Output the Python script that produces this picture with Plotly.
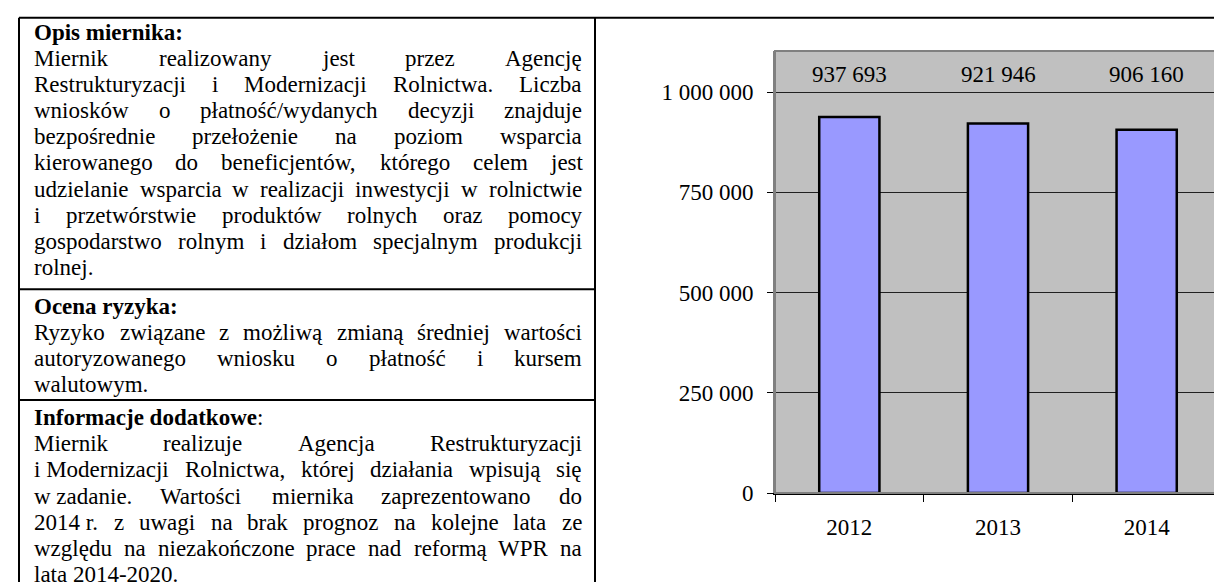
import plotly.graph_objects as go

# chart data
years = ["2012", "2013", "2014"]
values = [937693, 921946, 906160]

# description table text (left cell)
head_opis = "<b>Opis miernika:</b>"
opis_lines = [
    "Miernik realizowany jest przez Agencję",
    "Restrukturyzacji i Modernizacji Rolnictwa. Liczba",
    "wniosków o płatność/wydanych decyzji znajduje",
    "bezpośrednie przełożenie na poziom wsparcia",
    "kierowanego do beneficjentów, którego celem jest",
    "udzielanie wsparcia w realizacji inwestycji w rolnictwie",
    "i przetwórstwie produktów rolnych oraz pomocy",
    "gospodarstwo rolnym i działom specjalnym produkcji",
    "rolnej.",
]
head_ryzyko = "<b>Ocena ryzyka:</b>"
ryzyko_lines = [
    "Ryzyko związane z możliwą zmianą średniej wartości",
    "autoryzowanego wniosku o płatność i kursem",
    "walutowym.",
]
head_info = "<b>Informacje dodatkowe</b>:"
info_lines = [
    "Miernik realizuje Agencja Restrukturyzacji",
    "i\u00a0Modernizacji Rolnictwa, której działania wpisują się",
    "w\u00a0zadanie. Wartości miernika zaprezentowano do",
    "2014\u00a0r. z uwagi na brak prognoz na kolejne lata ze",
    "względu na niezakończone prace nad reformą WPR na",
    "lata 2014-2020.",
]

W, H = 1222, 587
FONT = "Liberation Serif, Times New Roman, serif"
FS = 23


def px(x):
    return x / W


def py(y):
    return 1 - y / H


# Times metrics (1/1000 em) to emulate justified text
_lw = dict(zip("abcdefghijklmnopqrstuvwxyz",
               [444, 500, 444, 500, 444, 333, 500, 500, 278, 278, 500, 278, 778,
                500, 500, 500, 500, 333, 389, 278, 500, 500, 722, 500, 500, 444]))
_uw = dict(zip("ABCDEFGHIJKLMNOPQRSTUVWXYZ",
               [722, 667, 667, 722, 611, 556, 722, 722, 333, 389, 722, 611, 889,
                722, 722, 556, 722, 667, 556, 611, 722, 722, 944, 722, 722, 611]))
_pl = dict(zip("ąćęłńóśźż", "acelnoszz"))


def text_w(s):
    tot = 0
    for ch in s:
        ch = _pl.get(ch, ch)
        if ch in _lw:
            tot += _lw[ch]
        elif ch in _uw:
            tot += _uw[ch]
        elif ch.isdigit():
            tot += 500
        elif ch in " \u00a0.,":
            tot += 250
        elif ch in ":/":
            tot += 278
        elif ch == "-":
            tot += 333
        else:
            tot += 500
    return tot * FS / 1000


LEFT, RIGHT = 25, 573
LH = 26.7
DIV_X = 587

annotations = []


def add_text(txt, x, y, anchor="left"):
    annotations.append(dict(text=txt, x=px(x), y=py(y), xref="paper", yref="paper",
                            xanchor=anchor, yanchor="middle", showarrow=False,
                            borderpad=0, font=dict(family=FONT, size=FS, color="black")))


def add_section(head, lines, y0):
    add_text(head, LEFT, y0)
    for i, line in enumerate(lines):
        y = y0 + (i + 1) * LH
        words = line.split(" ")
        last = i == len(lines) - 1
        if last or len(words) == 1:
            add_text(line, LEFT, y)
            continue
        widths = [text_w(w) for w in words]
        gap = (RIGHT - LEFT - sum(widths)) / (len(words) - 1)
        x = LEFT
        for w, ww in zip(words, widths):
            add_text(w, x, y)
            x += ww + gap


add_section(head_opis, opis_lines, 25)
add_section(head_ryzyko, ryzyko_lines, 305)
add_section(head_info, info_lines, 419)
sep1, sep2 = 287.5, 401

line = dict(color="black", width=2)
shapes = [
    dict(type="line", xref="paper", yref="paper", x0=px(11), x1=1, y0=py(10), y1=py(10), line=line),
    dict(type="line", xref="paper", yref="paper", x0=px(11), x1=px(11), y0=py(10), y1=0, line=line),
    dict(type="line", xref="paper", yref="paper", x0=px(DIV_X), x1=px(DIV_X), y0=py(10), y1=0, line=line),
    dict(type="line", xref="paper", yref="paper", x0=px(11), x1=px(DIV_X), y0=py(sep1), y1=py(sep1), line=line),
    dict(type="line", xref="paper", yref="paper", x0=px(11), x1=px(DIV_X), y0=py(sep2), y1=py(sep2), line=line),
    # grey frame of the plot area
    dict(type="rect", xref="x domain", yref="y domain", x0=0, x1=1, y0=0, y1=1,
         line=dict(color="#808080", width=2), layer="above"),
]

# value labels over the bars
for i, v in enumerate(values):
    annotations.append(dict(text=f"{v:,}".replace(",", " "), x=i, y=1045000, xref="x", yref="y",
                            showarrow=False, yanchor="middle",
                            font=dict(family=FONT, size=FS, color="black")))

fig = go.Figure(go.Bar(
    x=years, y=values, width=0.405,
    marker_color="#9999FF", marker_line_color="black", marker_line_width=2.5,
    hoverinfo="skip",
))

fig.update_layout(
    width=W, height=H,
    margin=dict(l=0, r=0, t=0, b=0),
    paper_bgcolor="white",
    plot_bgcolor="#C0C0C0",
    separators=", ",
    showlegend=False,
    font=dict(family=FONT, size=FS, color="black"),
    xaxis=dict(domain=[px(767), px(1213)], type="category", range=[-0.5, 2.5],
               showline=True, linecolor="black", linewidth=2, tickangle=0,
               ticks="outside", tickson="boundaries", ticklen=7, tickcolor="black", tickwidth=1,
               showgrid=False, tickfont=dict(family=FONT, size=FS, color="black"),
               ticklabelstandoff=12),
    yaxis=dict(domain=[py(496), py(44)], range=[0, 1102439], dtick=250000, tickformat=",d",
               showline=True, linecolor="#808080", linewidth=2,
               ticks="outside", ticklen=6, tickcolor="black", tickwidth=1,
               showgrid=True, gridcolor="#202020", gridwidth=1, zeroline=False,
               tickfont=dict(family=FONT, size=FS, color="black"),
               ticklabelstandoff=9),
    shapes=shapes,
    annotations=annotations,
)

fig.write_html("out.html")
